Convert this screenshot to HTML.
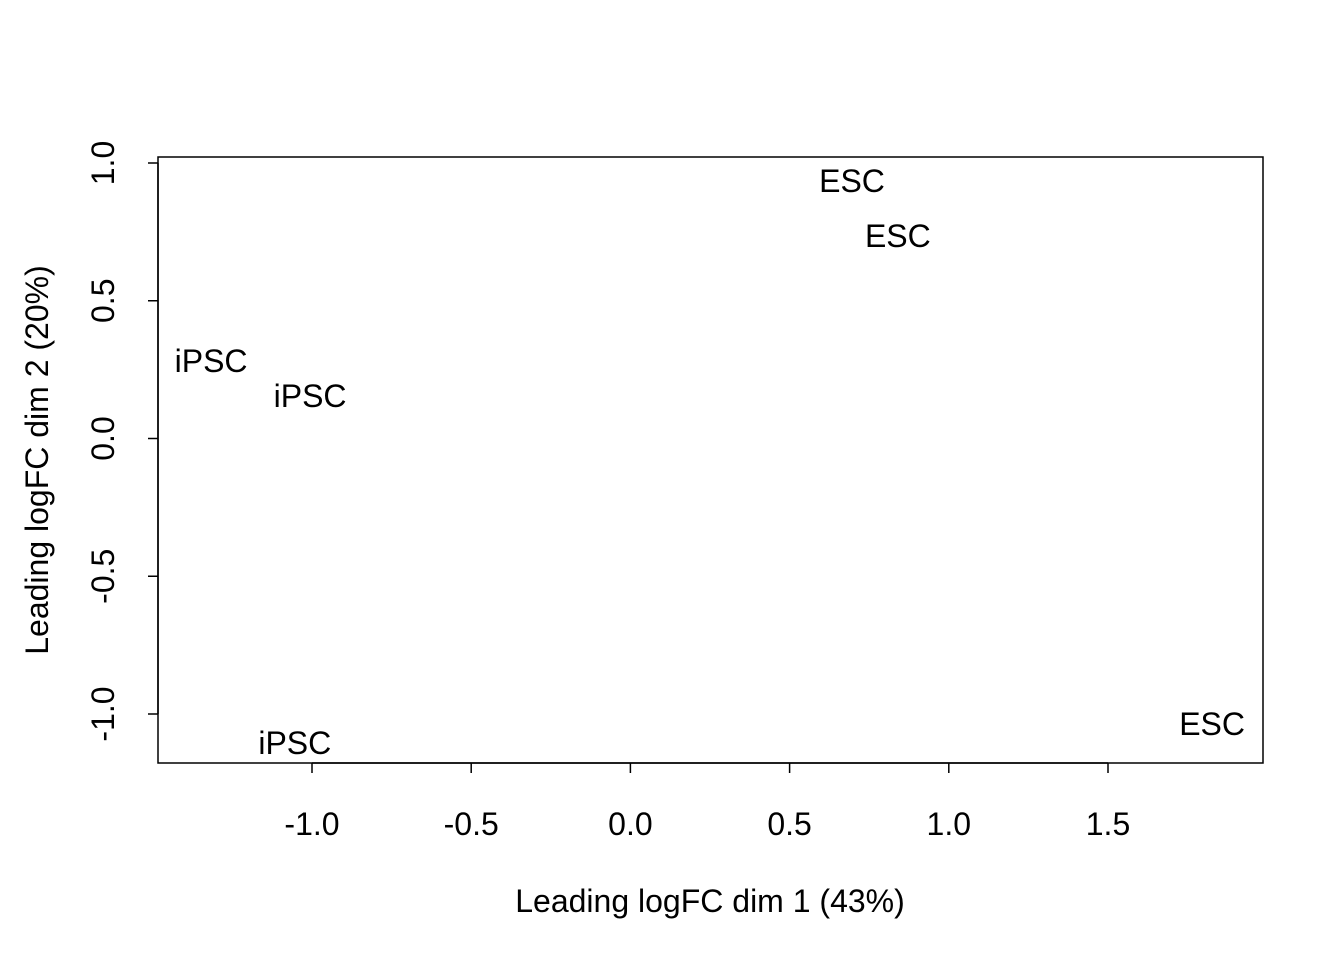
<!DOCTYPE html>
<html><head><meta charset="utf-8">
<style>
html,body{margin:0;padding:0;background:#fff;}
svg text{font-family:"Liberation Sans",Arial,sans-serif;fill:#000;}
</style></head>
<body>
<svg id="chart" width="1344" height="960" xmlns="http://www.w3.org/2000/svg">
<rect x="158" y="157" width="1105" height="606" fill="none" stroke="#000" stroke-width="1.5"/>
<g id="xaxis"></g>
<g id="yaxis"></g>
<g id="points"></g>
<text x="710" y="912" font-size="32" text-anchor="middle">Leading logFC dim 1 (43%)</text>
<text transform="translate(48,460) rotate(-90)" font-size="32" text-anchor="middle">Leading logFC dim 2 (20%)</text>
</svg>
<script>
const sampleLabels = ["iPSC","iPSC","iPSC","ESC","ESC","ESC"];
const dim1 = [-1.317,-1.006,-1.054,0.696,0.840,1.827];
const dim2 = [0.281,0.154,-1.105,0.935,0.735,-1.036];
const xTicks = [-1.0,-0.5,0.0,0.5,1.0,1.5];
const yTicks = [-1.0,-0.5,0.0,0.5,1.0];

const NS="http://www.w3.org/2000/svg";
function sx(v){return 630.4+v*318.4;}
function sy(v){return 438.5-v*275.5;}
function mk(tag,attrs,parent){const e=document.createElementNS(NS,tag);for(const k in attrs)e.setAttribute(k,attrs[k]);parent.appendChild(e);return e;}

const xg=document.getElementById('xaxis');
const xl=mk('line',{x1:sx(xTicks[0]),x2:sx(xTicks[xTicks.length-1]),y1:763,y2:763,stroke:'#000','stroke-width':1.5},xg);


xTicks.forEach(t=>{
  const l=mk('line',{x1:sx(t),x2:sx(t),y1:763,y2:773,stroke:'#000','stroke-width':1.5},xg);
  
  
  const tx=mk('text',{x:sx(t),y:835,'font-size':32,'text-anchor':'middle'},xg);
  tx.textContent=t.toFixed(1);
  
  
});

const yg=document.getElementById('yaxis');
const yl=mk('line',{x1:158,x2:158,y1:sy(yTicks[0]),y2:sy(yTicks[yTicks.length-1]),stroke:'#000','stroke-width':1.5},yg);


yTicks.forEach(t=>{
  const l=mk('line',{x1:148,x2:158,y1:sy(t),y2:sy(t),stroke:'#000','stroke-width':1.5},yg);
  
  
  const tx=mk('text',{transform:`translate(114,${sy(t)}) rotate(-90)`,'font-size':32,'text-anchor':'middle'},yg);
  tx.textContent=t.toFixed(1);
  
  
});

const pg=document.getElementById('points');
sampleLabels.forEach((s,i)=>{
  const tx=mk('text',{x:sx(dim1[i]),y:sy(dim2[i])+11,'font-size':32,'text-anchor':'middle'},pg);
  tx.textContent=s;
  
  
});
</script>
</body></html>
